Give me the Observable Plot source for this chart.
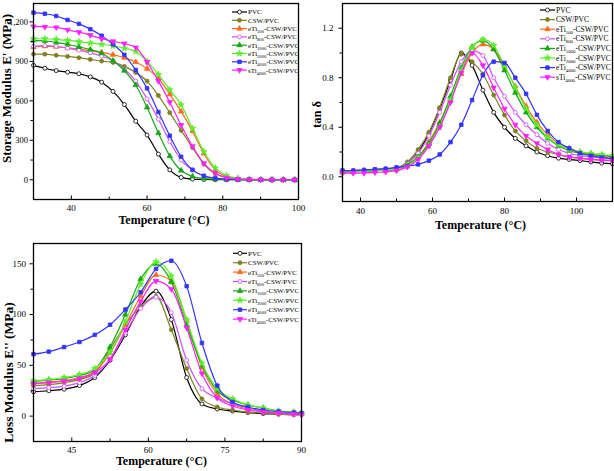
<!DOCTYPE html>
<html><head><meta charset="utf-8">
<script src="https://cdn.jsdelivr.net/npm/d3@7"></script>
<script src="https://cdn.jsdelivr.net/npm/@observablehq/plot@0.6"></script>
<style>
body{margin:0;background:#fff;}
#wrap{position:relative;width:614px;height:471px;overflow:hidden;background:#fff;}
#wrap > div{position:absolute;}
svg{overflow:visible;}
</style></head><body><div id="wrap"></div>
<script>
// ---------- series ----------
const seriesNames = ["PVC","CSW/PVC","eTi_500-CSW/PVC","eTi_800-CSW/PVC","eTi_1000-CSW/PVC","eTi_2000-CSW/PVC","eTi_4000-CSW/PVC","sTi_4000-CSW/PVC"];
const seriesColors = ["#000000","#7f8020","#ff6a1a","#cf50ff","#13a813","#5af02a","#3333ff","#ff22ff"];
const seriesSymbols = ["circle","circle","triangle","circle","triangle","star","square","triangleDown"];
const seriesOpen = [true,false,false,true,false,false,false,false];

// ---------- storage modulus E' (MPa) ----------
const storageTemp = [30,33,36,39,42,45,48,51,54,57,60,63,66,69,72,75,78,81,84,87,90,93,96,99];
const storage_PVC = [870,848,830,818,806,782,742,672,572,445,340,195,75,18,5,2,1,0,0,0,0,0,0,0];
const storage_CSW = [955,955,946,938,928,915,902,892,862,815,750,640,510,375,245,120,45,18,6,2,1,0,0,0];
const storage_eTi500 = [1010,1015,1012,1003,993,982,968,950,928,895,845,770,650,520,370,200,75,25,8,3,1,0,0,0];
const storage_eTi800 = [1015,1020,1015,1000,985,965,940,905,840,750,615,460,290,150,75,30,12,5,2,1,0,0,0,0];
const storage_eTi1000 = [1060,1055,1045,1030,1010,990,962,905,830,720,550,355,180,70,25,10,4,2,0,0,0,0,0,0];
const storage_eTi2000 = [1072,1072,1068,1060,1050,1040,1030,1018,1000,975,900,800,685,570,390,215,90,32,12,5,3,2,1,0];
const storage_eTi4000 = [1270,1262,1245,1215,1185,1145,1095,1030,950,835,695,515,335,175,75,30,12,5,2,1,0,0,0,0];
const storage_sTi4000 = [1165,1162,1158,1140,1122,1100,1072,1052,1035,1005,895,750,590,415,255,125,50,15,5,2,1,0,0,0];

// ---------- tan delta ----------
const tanTemp = [35,38,41,44,47,50,53,56,59,62,65,68,71,74,77,80,83,86,89,92,95,98,101,104,107,110];
const tan_PVC = [0.04,0.04,0.045,0.05,0.055,0.07,0.11,0.2,0.35,0.55,0.78,1.0,0.9,0.7,0.52,0.4,0.31,0.25,0.2,0.17,0.15,0.14,0.13,0.12,0.11,0.105];
const tan_CSW = [0.04,0.04,0.045,0.05,0.055,0.07,0.12,0.22,0.36,0.56,0.8,0.99,0.93,0.83,0.66,0.5,0.37,0.29,0.23,0.2,0.18,0.16,0.15,0.14,0.135,0.13];
const tan_eTi500 = [0.04,0.04,0.045,0.05,0.055,0.06,0.1,0.16,0.28,0.44,0.62,0.83,1.0,1.07,1.03,0.89,0.73,0.57,0.44,0.34,0.27,0.23,0.2,0.185,0.17,0.16];
const tan_eTi800 = [0.05,0.05,0.055,0.06,0.065,0.07,0.11,0.19,0.33,0.52,0.74,0.93,1.02,0.98,0.8,0.65,0.52,0.42,0.34,0.27,0.22,0.19,0.17,0.16,0.155,0.15];
const tan_eTi1000 = [0.04,0.04,0.045,0.05,0.055,0.06,0.1,0.16,0.27,0.43,0.65,0.88,1.05,1.1,1.03,0.86,0.68,0.52,0.4,0.31,0.25,0.21,0.19,0.18,0.17,0.165];
const tan_eTi2000 = [0.04,0.04,0.045,0.05,0.055,0.06,0.09,0.15,0.25,0.4,0.62,0.86,1.04,1.11,1.06,0.9,0.72,0.55,0.42,0.32,0.26,0.22,0.2,0.19,0.18,0.17];
const tan_eTi4000 = [0.05,0.05,0.055,0.06,0.065,0.075,0.085,0.1,0.13,0.18,0.28,0.42,0.62,0.82,0.93,0.92,0.8,0.67,0.5,0.37,0.28,0.23,0.19,0.17,0.155,0.145];
const tan_sTi4000 = [0.03,0.03,0.03,0.035,0.04,0.05,0.08,0.14,0.25,0.4,0.6,0.84,1.0,0.9,0.72,0.55,0.42,0.33,0.27,0.22,0.18,0.16,0.15,0.14,0.135,0.13];

// ---------- loss modulus E'' (MPa) ----------
const lossTemp = [37.5,40.5,43.5,46.5,49.5,52.5,55.5,58.5,61.5,64.5,67.5,70.5,73.5,76.5,79.5,82.5,85.5,88.5,90];
const loss_PVC = [24,25,26.5,30,38,55,80,108,123,95,38,12,7,5,3.5,2.5,2,1.5,1.5];
const loss_CSW = [30,31,33,36,42,66,90,108,118,85,47,17,9,6,4,3,2,1.5,1.5];
const loss_eTi500 = [32,33.5,35,38,44,62,90,118,139,133,94,48,22,12,7,5,3,2,2];
const loss_eTi800 = [27,28,29.5,33,40,56,82,106,117,102,55,27,18,12,8,5,3,2,2];
const loss_eTi1000 = [34,35.5,37,40,46,68,100,135,150,132,90,50,25,16,11,8,5,3.5,3];
const loss_eTi2000 = [35,36,38,41,47,63,93,130,152,138,95,52,27,17,11,8,5,4,3];
const loss_eTi4000 = [61,63.5,68,73,80,90,105,122,145,153,128,72,30,14,9,6,4.5,3.5,3];
const loss_sTi4000 = [32,33,34.5,37,43,56,85,113,133,125,87,42,18,10,6,4,3,2,1.5];

// ---------- axis ticks / labels ----------
const storageXTicks = [40,60,80,100], storageXMinor = [50,70,90];
const storageYTicks = [0,300,600,900,1200], storageYMinor = [150,450,750,1050];
const tanXTicks = [40,60,80,100], tanXMinor = [50,70,90];
const tanYTicks = [0,0.4,0.8,1.2], tanYMinor = [0.2,0.6,1.0];
const lossXTicks = [45,60,75,90], lossXMinor = [52.5,67.5,82.5];
const lossYTicks = [0,50,100,150], lossYMinor = [25,75,125];
const xTitle = "Temperature (°C)";
const storageYTitle = "Storage Modulus E' (MPa)";
const tanYTitle = "tan δ";
const lossYTitle = "Loss Modulus E'' (MPa)";

// ---------- helpers ----------
const triangleDown = {draw(ctx, size){ const y = Math.sqrt(size / (3*Math.sqrt(3))); ctx.moveTo(0, 2*y); ctx.lineTo(-Math.sqrt(3)*y, -y); ctx.lineTo(Math.sqrt(3)*y, -y); ctx.closePath(); }};
function sym(name){ return name === "triangleDown" ? triangleDown : name; }
function d3sym(name){ return ({circle:d3.symbolCircle, triangle:d3.symbolTriangle, star:d3.symbolStar, square:d3.symbolSquare, triangleDown})[name]; }

function panel(cfg){
  const rows = [];
  cfg.values.forEach((vals, s) => vals.forEach((v, i) => rows.push({t: cfg.temps[i], v, s})));
  const marks = [];
  seriesNames.forEach((name, s) => {
    const d = rows.filter(r => r.s === s);
    marks.push(Plot.line(d, {x:"t", y:"v", stroke: seriesColors[s], strokeWidth: 1.2, curve: "monotone-x"}));
    marks.push(Plot.dot(d, {x:"t", y:"v", r: 2, symbol: sym(seriesSymbols[s]), fill: seriesOpen[s] ? "white" : seriesColors[s], stroke: seriesColors[s], strokeWidth: 0.8}));
  });
  marks.push(
    Plot.frame({stroke:"black", strokeWidth: 1.3}),
    Plot.axisY(cfg.yTicks, {tickSize: 3.5, tickPadding: cfg.yPad, tickFormat: cfg.yFormat, fontSize: cfg.yTickSize, label: null}),
    Plot.axisY(cfg.yMinor, {tickSize: 2.5, tickFormat: () => "", label: null}),
    Plot.axisX(cfg.xTicks, {tickSize: -3.5, tickPadding: cfg.xPad, fontSize: 9, label: null}),
    Plot.axisX(cfg.xMinor, {tickSize: -2.5, tickFormat: () => "", label: null}),
    Plot.text([xTitle], {frameAnchor: "bottom", dy: cfg.xTitleDy, dx: cfg.xTitleDx, lineAnchor: "middle", textAnchor: "middle", fontSize: 12, fontWeight: "bold", text: d => d}),
    Plot.text([cfg.yTitle], {frameAnchor: "left", rotate: -90, dx: cfg.yTitleDx, dy: cfg.yTitleDy, lineAnchor: "middle", textAnchor: "middle", fontSize: cfg.yTitleSize, fontWeight: "bold", text: d => d})
  );
  const svg = Plot.plot({
    width: cfg.width, height: cfg.height,
    marginLeft: cfg.m[0], marginTop: cfg.m[1], marginRight: cfg.m[2], marginBottom: cfg.m[3],
    x: {domain: cfg.xDomain, label: null},
    y: {domain: cfg.yDomain, label: null},
    style: {fontFamily: "'Liberation Serif', 'Times New Roman', serif", color: "black", background: "transparent", overflow: "visible"},
    marks
  });
  // legend
  const L = cfg.legend;
  const g = d3.select(svg).append("g").attr("font-family", "'Liberation Serif', serif").attr("font-size", L.fs).attr("text-anchor", "start");
  seriesNames.forEach((name, s) => {
    const y = L.y0 + s * L.dy;
    g.append("line").attr("x1", L.x0).attr("x2", L.x1).attr("y1", y).attr("y2", y).attr("stroke", seriesColors[s]).attr("stroke-width", 1.2);
    g.append("path").attr("d", d3.symbol(d3sym(seriesSymbols[s]), Math.PI * 4)()).attr("transform", `translate(${(L.x0 + L.x1) / 2},${y})`)
      .attr("fill", seriesOpen[s] ? "white" : seriesColors[s]).attr("stroke", seriesColors[s]).attr("stroke-width", 0.8);
    const t = g.append("text").attr("x", L.x1 + 1).attr("y", y).attr("dy", "0.35em").attr("fill", "black").attr("text-anchor", "start");
    const m = name.match(/^([A-Za-z]+)_(\d+)(.*)$/);
    if (m) {
      t.append("tspan").text(m[1]);
      t.append("tspan").attr("font-size", L.fs * 0.65).attr("dy", 2).text(m[2]);
      t.append("tspan").attr("dy", -2).text(m[3]);
    } else t.text(name);
  });
  const div = document.createElement("div");
  div.style.left = cfg.left + "px"; div.style.top = cfg.top + "px";
  div.appendChild(svg);
  document.getElementById("wrap").appendChild(div);
}

panel({
  left: 0, top: 0, width: 310, height: 232, m: [33, 3, 12, 33],
  temps: storageTemp,
  values: [storage_PVC, storage_CSW, storage_eTi500, storage_eTi800, storage_eTi1000, storage_eTi2000, storage_eTi4000, storage_sTi4000],
  xDomain: [30, 100], yDomain: [-150, 1340],
  xTicks: storageXTicks, xMinor: storageXMinor, yTicks: storageYTicks, yMinor: storageYMinor,
  yFormat: d => d, yPad: 2, xPad: 8.5, yTickSize: 8.5,
  yTitle: storageYTitle, yTitleSize: 13, xTitleDy: 21, xTitleDx: -2, yTitleDx: -27, yTitleDy: -13,
  legend: {x0: 232, x1: 247, y0: 12, dy: 8.3, fs: 7}
});
panel({
  left: 310, top: 0, width: 304, height: 240, m: [32, 3, 2, 39],
  temps: tanTemp,
  values: [tan_PVC, tan_CSW, tan_eTi500, tan_eTi800, tan_eTi1000, tan_eTi2000, tan_eTi4000, tan_sTi4000],
  xDomain: [35, 110], yDomain: [-0.2, 1.4],
  xTicks: tanXTicks, xMinor: tanXMinor, yTicks: tanYTicks, yMinor: tanYMinor,
  yFormat: d3.format(".1f"), yPad: 5.5, xPad: 10, yTickSize: 9,
  yTitle: tanYTitle, yTitleSize: 12.5, xTitleDy: 24, xTitleDx: 3, yTitleDx: -26, yTitleDy: 12,
  legend: {x0: 230, x1: 245, y0: 10, dy: 9.6, fs: 7.5}
});
panel({
  left: 0, top: 230, width: 310, height: 241, m: [33, 13, 9, 30],
  temps: lossTemp,
  values: [loss_PVC, loss_CSW, loss_eTi500, loss_eTi800, loss_eTi1000, loss_eTi2000, loss_eTi4000, loss_sTi4000],
  xDomain: [37.5, 90], yDomain: [-25, 170],
  xTicks: lossXTicks, xMinor: lossXMinor, yTicks: lossYTicks, yMinor: lossYMinor,
  yFormat: d => d, yPad: 4, xPad: 8.3, yTickSize: 9,
  yTitle: lossYTitle, yTitleSize: 13.5, xTitleDy: 19.5, xTitleDx: -6, yTitleDx: -24.7, yTitleDy: 30,
  legend: {x0: 233, x1: 247, y0: 23.3, dy: 9.4, fs: 7}
});
</script></body></html>
